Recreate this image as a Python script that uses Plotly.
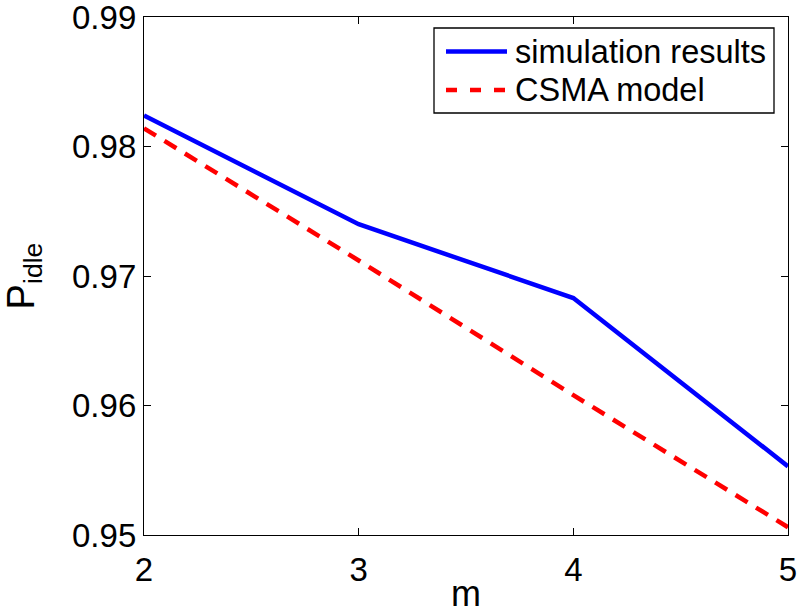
import plotly.graph_objects as go

m_values = [2, 3, 4, 5]
sim_results = [0.9824, 0.9740, 0.9683, 0.9553]
csma_model = [0.9814, 0.9712, 0.9608, 0.9506]
y_ticks = [0.95, 0.96, 0.97, 0.98, 0.99]
y_tick_labels = ["0.95", "0.96", "0.97", "0.98", "0.99"]
x_ticks = [2, 3, 4, 5]
series_names = ["simulation results", "CSMA model"]

FONT = "Liberation Sans, Arial, sans-serif"

fig = go.Figure()
fig.add_trace(go.Scatter(x=m_values, y=sim_results, mode="lines", name=series_names[0],
                         line=dict(color="#0000ff", width=4.5), showlegend=False))
fig.add_trace(go.Scatter(x=m_values, y=csma_model, mode="lines", name=series_names[1],
                         line=dict(color="#ff0000", width=4.5, dash="14px,10px"), showlegend=False))

# custom legend (MATLAB-style)
L, R, T, B = 144, 788, 17, 535
def px(x):
    return (x - L) / (R - L)
def py(y):
    return (B - y) / (B - T)

fig.add_shape(type="rect", xref="paper", yref="paper", x0=px(434), x1=px(774), y0=py(113), y1=py(28),
              line=dict(color="black", width=1.3), fillcolor="white", layer="above")
fig.add_shape(type="line", xref="paper", yref="paper", x0=px(446), x1=px(507), y0=py(51.5), y1=py(51.5),
              line=dict(color="#0000ff", width=4.5), layer="above")
fig.add_shape(type="line", xref="paper", yref="paper", x0=px(446), x1=px(507), y0=py(90), y1=py(90),
              line=dict(color="#ff0000", width=4.5, dash="11px,13px"), layer="above")
for name, yy in zip(series_names, [51.5, 90]):
    fig.add_annotation(xref="paper", yref="paper", x=px(513), y=py(yy), text=name, showarrow=False,
                       xanchor="left", yanchor="middle", font=dict(family=FONT, size=32.5, color="black"))

fig.update_layout(
    width=799, height=614,
    margin=dict(l=L, r=799 - R, t=T, b=614 - B, autoexpand=False),
    plot_bgcolor="white", paper_bgcolor="white",
    font=dict(family=FONT, size=32, color="black"),
)
fig.update_xaxes(range=[2, 5], tickvals=x_ticks, ticks="inside", ticklen=7, tickcolor="black",
                 showline=True, linecolor="black", linewidth=1.3, mirror="ticks", showgrid=False,
                 zeroline=False, title=dict(text="m", font=dict(size=36), standoff=2),
                 tickfont=dict(size=33), ticklabelstandoff=5, automargin=False,
                 ticklabeloverflow="allow")
fig.update_yaxes(range=[0.95, 0.99], tickvals=y_ticks, ticktext=y_tick_labels, ticks="inside",
                 ticklen=7, tickcolor="black", showline=True, linecolor="black", linewidth=1.3,
                 mirror="ticks", showgrid=False, zeroline=False,
                 title=dict(text="P<sub>idle</sub>", font=dict(size=38), standoff=25),
                 tickfont=dict(size=33), automargin=False, ticklabeloverflow="allow")

fig.write_html("out.html")
